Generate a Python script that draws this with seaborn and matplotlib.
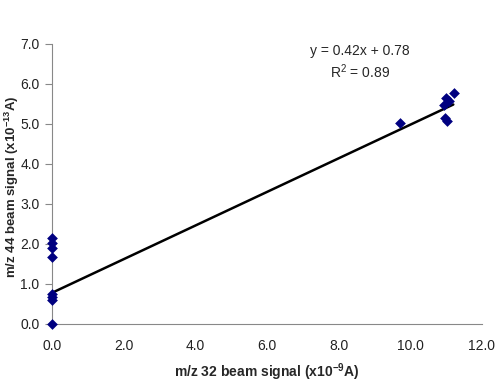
import matplotlib
matplotlib.use("Agg")
import matplotlib.pyplot as plt
import seaborn as sns
import pandas as pd
import numpy as np

x_vals = [0, 0, 0, 0, 0, 0, 0, 0, 9.70, 11.21, 11.00, 10.93, 11.07, 10.98, 11.02]
y_vals = [0.0, 0.60, 0.68, 0.75, 1.68, 1.90, 2.03, 2.15, 5.03, 5.78, 5.64, 5.48, 5.56, 5.14, 5.08]
slope = 0.42
intercept = 0.78
fit_x = [0, 11.2]
x_ticks = [0, 2, 4, 6, 8, 10, 12]
y_ticks = [0, 1, 2, 3, 4, 5, 6, 7]

sns.set_style("white")
plt.rcParams['font.family'] = ['Liberation Sans', 'DejaVu Sans']
plt.rcParams['mathtext.default'] = 'regular'

fig = plt.figure(figsize=(5.01, 3.88), dpi=100)
ax = fig.add_axes([0.104, 0.165, 0.858, 0.722])

df = pd.DataFrame({"x": x_vals, "y": y_vals})
sns.scatterplot(data=df, x="x", y="y", marker="D", color="#000080", s=30,
                edgecolor="#000080", linewidth=0, ax=ax, zorder=3, clip_on=False)
fx = np.array(fit_x)
sns.lineplot(x=fx, y=slope * fx + intercept, color="black", linewidth=1.8, ax=ax, zorder=2)

ax.set_xlim(0, 12)
ax.set_ylim(0, 7)
ax.set_xticks(x_ticks)
ax.set_yticks(y_ticks)
ax.set_xticklabels([f"{v:.1f}" for v in x_ticks], fontsize=10, color="#222222")
ax.set_yticklabels([f"{v:.1f}" for v in y_ticks], fontsize=10, color="#222222")
ax.tick_params(axis="y", direction="out", length=5, width=0.8, color="#888888", left=True, pad=4)
ax.tick_params(axis="x", length=0, pad=11)
for s in ["top", "right"]:
    ax.spines[s].set_visible(False)
for s in ["left", "bottom"]:
    ax.spines[s].set_color("#888888")
    ax.spines[s].set_linewidth(0.8)

ax.set_xlabel("m/z 32 beam signal (x10$^{-9}$A)", fontsize=10, fontweight="bold", labelpad=6)
ax.set_ylabel("m/z 44 beam signal (x10$^{-13}$A)", fontsize=9.5, fontweight="bold")
ax.yaxis.set_label_coords(-0.072, 0.49)

ax.text(8.6, 6.82, "y = 0.42x + 0.78", ha="center", va="center", fontsize=10)
ax.text(8.6, 6.3, "R$^2$ = 0.89", ha="center", va="center", fontsize=10)

fig.savefig("out.png", dpi=100)
